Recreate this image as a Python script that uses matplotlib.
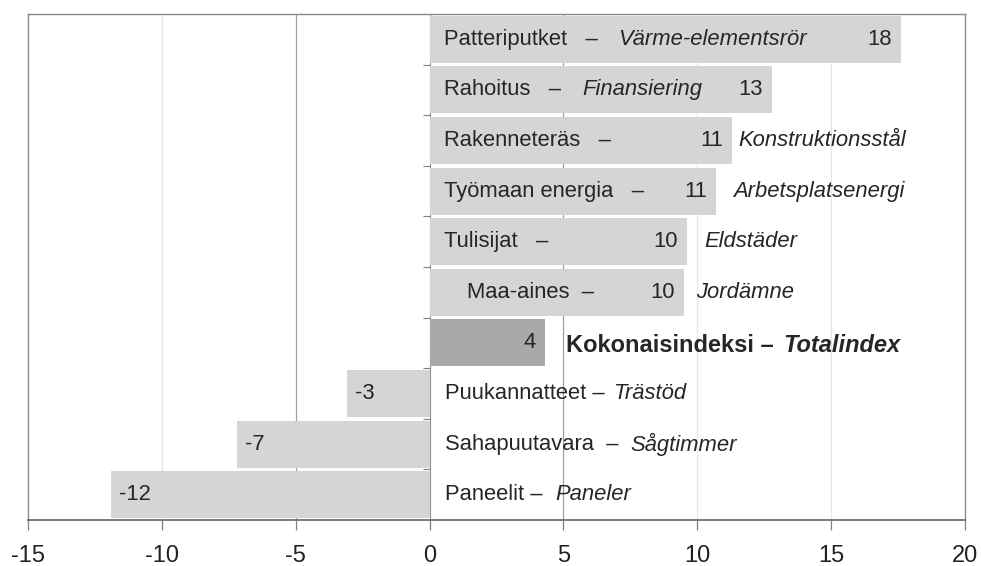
import matplotlib
matplotlib.use("Agg")
import matplotlib.pyplot as plt
from matplotlib import transforms

plt.rcParams["font.family"] = ["Liberation Sans", "DejaVu Sans"]

# data (top row first)
names_fi = ["Patteriputket   –", "Rahoitus   –", "Rakenneteräs   –", "Työmaan energia   –",
            "Tulisijat   –", "Maa-aines  –", "Kokonaisindeksi –", "Puukannatteet –",
            "Sahapuutavara  –", "Paneelit –"]
names_sv = ["Värme-elementsrör", "Finansiering", "Konstruktionsstål", "Arbetsplatsenergi",
            "Eldstäder", "Jordämne", "Totalindex", "Trästöd", "Sågtimmer", "Paneler"]
values = [17.6, 12.8, 11.3, 10.7, 9.6, 9.5, 4.3, -3.1, -7.2, -11.9]
xticks = [-15, -10, -5, 0, 5, 10, 15, 20]

# layout of the text labels
sv_x = [7.05, 5.7, 11.55, 11.35, 10.25, 9.95, 13.2, 6.85, 7.5, 4.7]
fi_indent = [14, 14, 14, 14, 14, 37, None, 15, 15, 15]
total_row = 6

fig = plt.figure(figsize=(9.81, 5.66), dpi=100)
ax = fig.add_axes([28 / 981, 1 - 520 / 566, (965 - 28) / 981, (520 - 14) / 566])

rows = list(range(len(values)))
colors = ["#a9a9a9" if i == total_row else "#d5d5d5" for i in rows]
ax.barh(rows, values, height=0.93, color=colors, zorder=2)

ax.set_xlim(-15, 20)
ax.set_ylim(len(values) - 0.5, -0.5)

# vertical gridlines (behind the bars)
for t in xticks[1:-1]:
    if t == 0:
        continue
    c = "#a0a0a0" if abs(t) == 5 else "#e6e6e6"
    ax.axvline(t, color=c, lw=0.9, zorder=1)

# zero axis with small separator ticks
ax.axvline(0, color="#909090", lw=0.8, zorder=1)
ax.hlines([i + 0.5 for i in rows[:-1]], -0.25, 0, color="#808080", lw=0.8, zorder=3)

ax.set_xticks(xticks)
ax.set_xticklabels([str(t) for t in xticks], fontsize=17, color="#222222")
ax.set_yticks([])
ax.tick_params(axis="x", direction="out", length=7, width=0.9, color="#808080", pad=11)
for s in ax.spines.values():
    s.set_color("#8a8a8a")
    s.set_linewidth(1.0)
ax.spines["bottom"].set_color("#707070")
ax.spines["bottom"].set_linewidth(1.3)

txt = "#262626"
fs = 15.8
for i, v in enumerate(values):
    lab = str(round(v))
    if v >= 0:
        off = transforms.offset_copy(ax.transData, fig=fig, x=-9, y=0, units="dots")
        ax.text(v, i, lab, transform=off, ha="right", va="center", fontsize=fs, color=txt, zorder=4)
    else:
        off = transforms.offset_copy(ax.transData, fig=fig, x=8, y=0, units="dots")
        ax.text(v, i, lab, transform=off, ha="left", va="center", fontsize=fs, color=txt, zorder=4)

    if i == total_row:
        ax.text(5.08, i + 0.05, names_fi[i], ha="left", va="center", fontsize=17,
                fontweight="bold", color=txt, zorder=4)
        ax.text(sv_x[i], i + 0.05, names_sv[i], ha="left", va="center", fontsize=17,
                fontweight="bold", style="italic", color=txt, zorder=4)
    else:
        off = transforms.offset_copy(ax.transData, fig=fig, x=fi_indent[i], y=0, units="dots")
        ax.text(0, i, names_fi[i], transform=off, ha="left", va="center", fontsize=fs,
                color=txt, zorder=4)
        ax.text(sv_x[i], i, names_sv[i], ha="left", va="center", fontsize=fs,
                style="italic", color=txt, zorder=4)

fig.savefig("out.png", dpi=100)
